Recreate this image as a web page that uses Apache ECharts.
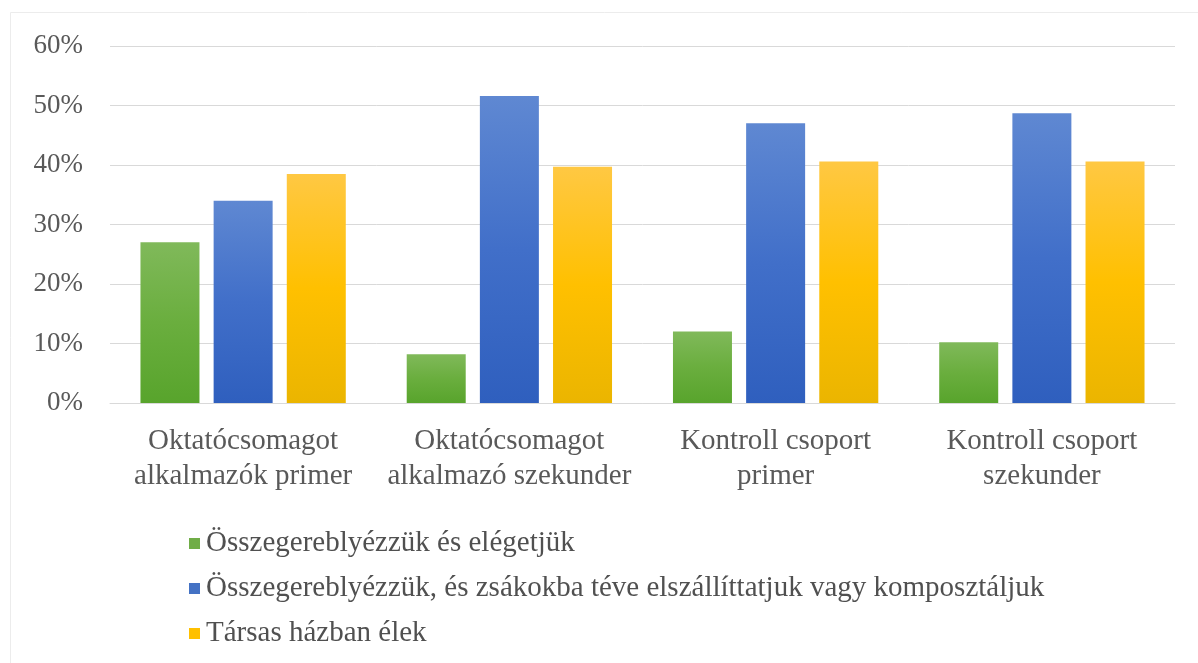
<!DOCTYPE html>
<html>
<head>
<meta charset="utf-8">
<script src="https://cdn.jsdelivr.net/npm/echarts@6/dist/echarts.min.js"></script>
<style>
html,body{margin:0;padding:0;background:#fff;}
#chart{width:1198px;height:663px;}
</style>
</head>
<body>
<div id="chart"></div>
<script>
var categories = ['Oktatócsomagot\nalkalmazók primer', 'Oktatócsomagot\nalkalmazó szekunder', 'Kontroll csoport\nprimer', 'Kontroll csoport\nszekunder'];
var seriesNames = ['Összegereblyézzük és elégetjük', 'Összegereblyézzük, és zsákokba téve elszállíttatjuk vagy komposztáljuk', 'Társas házban élek'];
var burnValues = [0.27, 0.082, 0.12, 0.102];
var bagValues = [0.34, 0.516, 0.47, 0.487];
var flatValues = [0.385, 0.397, 0.406, 0.406];
var yTicks = [0, 0.1, 0.2, 0.3, 0.4, 0.5, 0.6];

var FONT = '"Liberation Serif", "Times New Roman", serif';
function grad(c1, c2, c3) {
  return new echarts.graphic.LinearGradient(0, 0, 0, 1, [
    {offset: 0, color: c1}, {offset: 0.5, color: c2}, {offset: 1, color: c3}
  ]);
}
var colors = [
  grad('#80b95a', '#6aae3e', '#58a42c'),
  grad('#5f88d2', '#416fc9', '#2f5fbe'),
  grad('#ffc843', '#ffc000', '#ebb500')
];
var legendColors = ['#70ad47', '#4472c4', '#ffc000'];
var valueSets = [burnValues, bagValues, flatValues];

var chart = echarts.init(document.getElementById('chart'), null, {renderer: 'canvas'});
chart.setOption({
  animation: false,
  backgroundColor: '#fff',
  graphic: [{
    type: 'polyline',
    shape: {points: [[10.5, 663], [10.5, 12.5], [1198, 12.5]]},
    style: {stroke: '#ececec', fill: null, lineWidth: 1},
    silent: true
  }],
  grid: {left: 110, right: 23, top: 46, bottom: 260, containLabel: false},
  legend: {
    orient: 'vertical',
    left: 184,
    top: 524,
    itemWidth: 11,
    itemHeight: 11,
    itemGap: 16,
    icon: 'rect',
    textStyle: {fontFamily: FONT, fontSize: 29, color: '#505050', lineHeight: 28, padding: [0, 0, 0, 1]},
    data: seriesNames.map(function (n, i) { return {name: n, itemStyle: {color: legendColors[i]}}; })
  },
  xAxis: {
    type: 'category',
    data: categories,
    axisLine: {show: true, lineStyle: {color: '#d9d9d9', width: 1}},
    axisTick: {show: false},
    axisLabel: {fontFamily: FONT, fontSize: 29, color: '#595959', lineHeight: 35, margin: 21, interval: 0}
  },
  yAxis: {
    type: 'value',
    min: yTicks[0],
    max: yTicks[yTicks.length - 1],
    interval: yTicks[1] - yTicks[0],
    axisLine: {show: false},
    axisTick: {show: false},
    splitLine: {lineStyle: {color: '#d9d9d9', width: 1}},
    axisLabel: {
      fontFamily: FONT, fontSize: 27, color: '#595959', margin: 27,
      formatter: function (v) { return Math.round(v * 100) + '%'; }
    }
  },
  series: seriesNames.map(function (n, i) {
    return {
      name: n,
      type: 'bar',
      data: valueSets[i],
      barWidth: 59,
      barGap: '24%',
      itemStyle: {color: colors[i]}
    };
  })
});
</script>
</body>
</html>
